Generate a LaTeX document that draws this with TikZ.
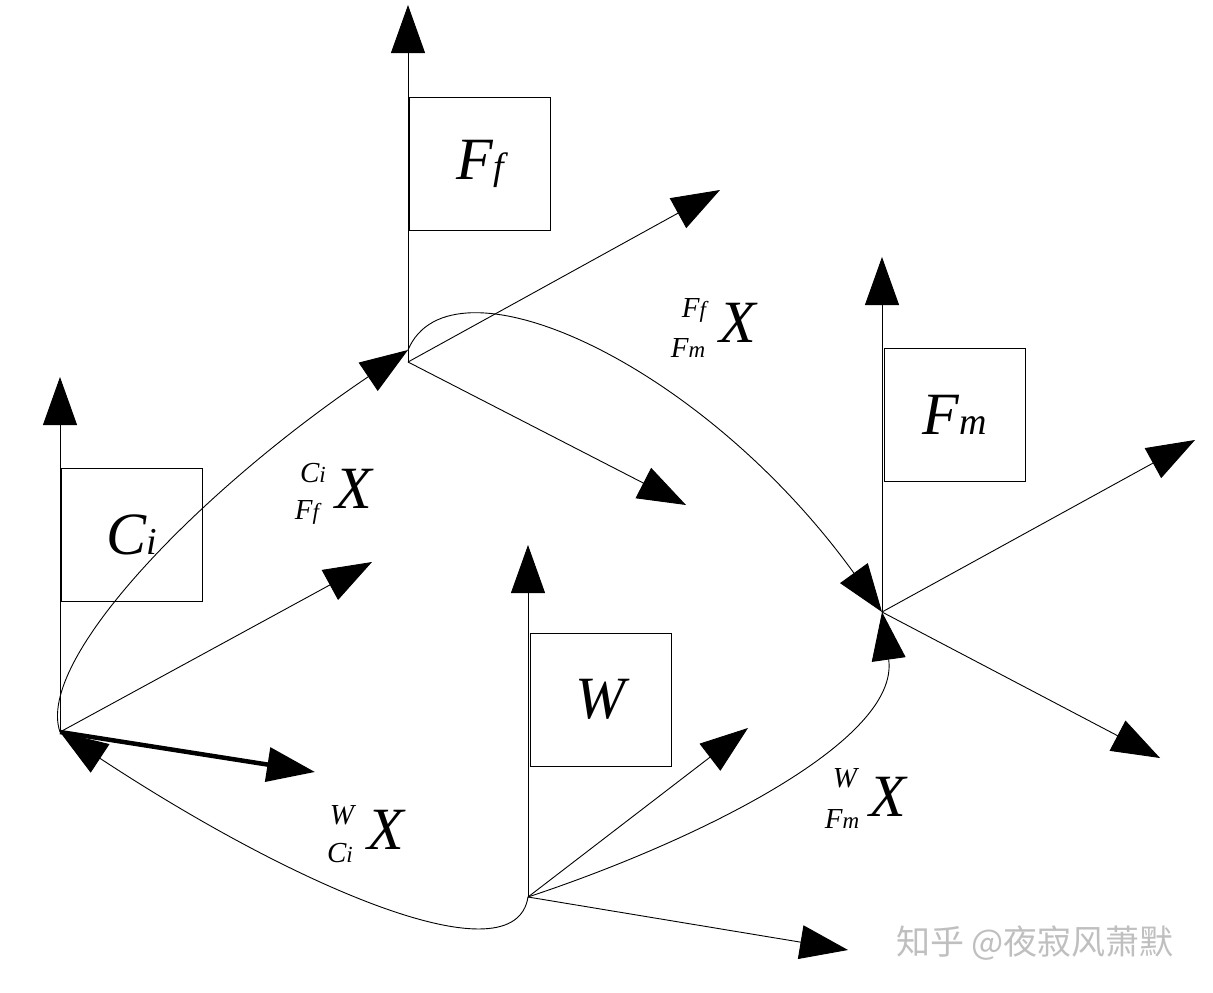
\documentclass[tikz,border=0pt]{standalone}
\usepackage{fontspec}
\setmainfont{Liberation Serif}
\newfontfamily\cjk{Noto Sans CJK SC}
\usetikzlibrary{arrows.meta}
\newcommand{\bxsub}[1]{{\fontsize{38}{38}\selectfont #1}}
\newcommand{\scsub}[1]{{\fontsize{23}{23}\selectfont #1}}
\begin{document}
\begin{tikzpicture}[x=1pt,y=-1pt,
 axis/.style={line width=0.9pt, -{Triangle[length=48pt,width=34pt]}},
 thickaxis/.style={line width=4.5pt, -{Triangle[length=48pt,width=34pt]}},
 link/.style={line width=0.9pt, -{Triangle[length=48pt,width=34pt]}},
 frame/.style={draw, line width=1pt, minimum width=141pt, minimum height=133pt, inner sep=0pt, font=\fontsize{60}{60}\selectfont\itshape},
 bigx/.style={inner sep=0pt, font=\fontsize{60}{60}\selectfont\itshape},
 scr/.style={inner sep=0pt, font=\fontsize{29}{29}\selectfont\itshape},
 wmark/.style={inner sep=0pt, text=black!25, font=\cjk\fontsize{34}{34}\selectfont},
]
\useasboundingbox (0,0) rectangle (1213,993);

% origins and axis tips
\coordinate (Ci) at (60,732);
\coordinate (CiZ) at (60,377);
\coordinate (CiX) at (372,562);
\coordinate (CiY) at (315,772);
\coordinate (Ff) at (408,362);
\coordinate (Ffc) at (408,350);
\coordinate (FfZ) at (408,5);
\coordinate (FfX) at (720,190);
\coordinate (FfY) at (686,505);
\coordinate (Fm) at (882,612);
\coordinate (FmZ) at (882,257);
\coordinate (FmX) at (1195,440);
\coordinate (FmY) at (1160,758);
\coordinate (W) at (528,897);
\coordinate (WZ) at (528,545);
\coordinate (WX) at (848,950);
\coordinate (WY) at (748,728);

% frame boxes
\node[frame] (boxCi) at (132,534.5) {C\bxsub{i}};
\node[frame] (boxFf) at (480,163.5) {F\bxsub{f}};
\node[frame] (boxFm) at (954.5,414.5) {F\bxsub{m}};
\node[frame] (boxW) at (600.5,699.5) {W};

% axes
\draw[axis] (Ci) -- (CiZ);
\draw[axis] (Ci) -- (CiX);
\draw[thickaxis] (Ci) -- (CiY);
\draw[axis] (Ff) -- (FfZ);
\draw[axis] (Ff) -- (FfX);
\draw[axis] (Ff) -- (FfY);
\draw[axis] (Fm) -- (FmZ);
\draw[axis] (Fm) -- (FmX);
\draw[axis] (Fm) -- (FmY);
\draw[axis] (W) -- (WZ);
\draw[axis] (W) -- (WX);
\draw[axis] (W) -- (WY);

% transforms
\draw[link] (Ci) .. controls (35,660) and (200,490) .. (Ffc);
\draw[link] (Ffc) .. controls (450,250) and (700,360) .. (Fm);
\draw[link] (W) .. controls (700,840) and (900,740) .. (Fm);
\draw[link] (W) .. controls (515,980) and (300,890) .. (Ci);

% labels
\node[bigx] (x1) at (354,489) {X};
\node[scr] (x1a) at (313,473) {C\scsub{i}};
\node[scr] (x1b) at (307,512) {F\scsub{f}};
\node[bigx] (x2) at (738,323) {X};
\node[scr] (x2a) at (694,310) {F\scsub{f}};
\node[scr] (x2b) at (688,348) {F\scsub{m}};
\node[bigx] (x3) at (386,830) {X};
\node[scr] (x3a) at (342,815) {W};
\node[scr] (x3b) at (340,853) {C\scsub{i}};
\node[bigx] (x4) at (888,797) {X};
\node[scr] (x4a) at (845,778) {W};
\node[scr] (x4b) at (842,819) {F\scsub{m}};

\node[wmark] (wm) at (1035,943) {知乎 @夜寂风萧默};
\end{tikzpicture}
\end{document}
